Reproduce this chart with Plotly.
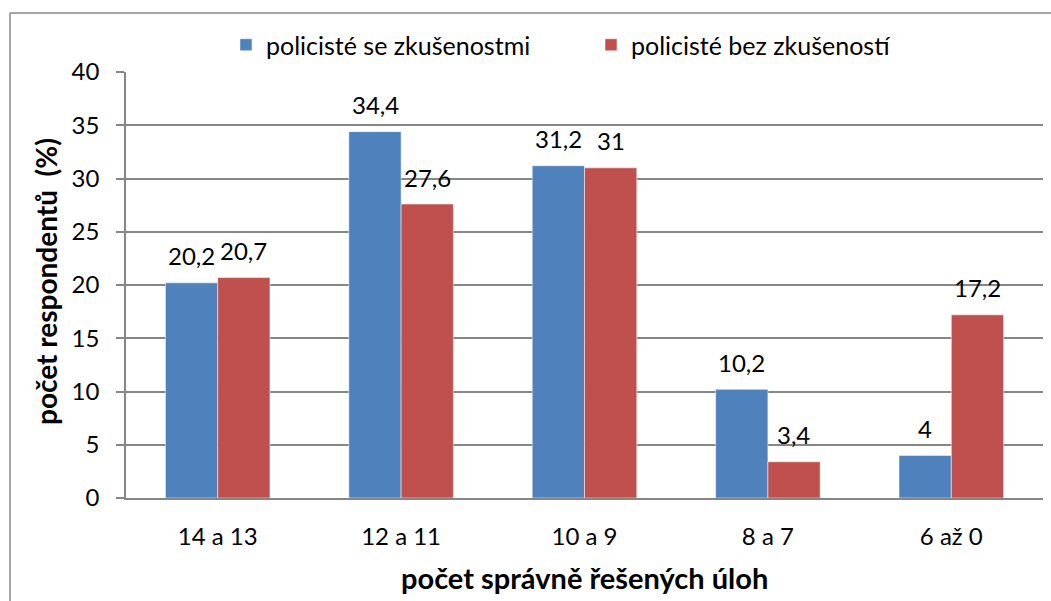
import plotly.graph_objects as go

categories = ["14 a 13", "12 a 11", "10 a 9", "8 a 7", "6 až 0"]
series_names = ["policisté se zkušenostmi", "policisté bez zkušeností"]
with_exp = [20.2, 34.4, 31.2, 10.2, 4]
without_exp = [20.7, 27.6, 31, 3.4, 17.2]
y_ticks = [0, 5, 10, 15, 20, 25, 30, 35, 40]

colors = ["#4F81BD", "#C0504D"]
FONT = "Lato"

def fmt(v):
    return f"{v:g}".replace(".", ",")

W, H = 1051, 601
L, R, T, B = 126, 8, 72, 103
pw, ph = W - L - R, H - T - B

def px(x):
    return (x - L) / pw

def py(y):
    return (H - B - y) / ph

fig = go.Figure()
for name, vals, col in zip(series_names, [with_exp, without_exp], colors):
    fig.add_trace(go.Bar(
        x=categories, y=vals, name=name,
        marker=dict(color=col, line=dict(color="rgba(255,255,255,0.5)", width=1)),
    ))

annotations = []
for vals, shift in [(with_exp, -26), (without_exp, 26)]:
    for c, v in zip(categories, vals):
        annotations.append(dict(
            x=c, y=v, xref="x", yref="y", text=fmt(v), showarrow=False,
            xshift=shift, yshift=27, yanchor="middle", xanchor="center",
            font=dict(family=FONT, size=24, color="#000000"),
        ))

annotations.append(dict(
    x=px(46), y=py(282), xref="paper", yref="paper",
    text="<b>počet respondentů\u00a0\u00a0(%)</b>",
    showarrow=False, textangle=-90, xanchor="center", yanchor="middle",
    font=dict(family=FONT, size=28, color="#000000"),
))
annotations.append(dict(
    x=px(584), y=py(577), xref="paper", yref="paper",
    text="<b>počet správně řešených úloh</b>",
    showarrow=False, xanchor="center", yanchor="middle",
    font=dict(family=FONT, size=29, color="#000000"),
))

fig.update_layout(
    width=W, height=H,
    margin=dict(l=L, r=R, t=T, b=B),
    paper_bgcolor="white", plot_bgcolor="white",
    barmode="group", bargap=0.43, bargroupgap=0,
    font=dict(family=FONT, color="#000000"),
    showlegend=True,
    legend=dict(
        orientation="h", x=px(226), y=py(45), xref="paper", yref="paper",
        xanchor="left", yanchor="middle",
        font=dict(family=FONT, size=25, color="#000000"),
        itemwidth=30, tracegroupgap=0, entrywidth=320,
    ),
    xaxis=dict(
        showgrid=False, showline=True, linecolor="#868686", linewidth=1.5,
        ticks="", tickfont=dict(family=FONT, size=24, color="#000000"),
        ticklabelstandoff=16,
    ),
    yaxis=dict(
        range=[0, 40], tickvals=y_ticks, showgrid=True, gridcolor="#868686", gridwidth=1.5,
        showline=True, linecolor="#868686", linewidth=1.5, zeroline=False,
        ticks="outside", ticklen=8, tickcolor="#868686", tickwidth=1.5,
        tickfont=dict(family=FONT, size=24, color="#000000"),
        ticklabelstandoff=12,
    ),
    annotations=annotations,
    shapes=[
        dict(type="line", xref="paper", yref="paper", x0=px(10), x1=px(W),
             y0=py(13), y1=py(13), line=dict(color="#888888", width=1.5)),
        dict(type="line", xref="paper", yref="paper", x0=px(10), x1=px(10),
             y0=py(13), y1=py(H), line=dict(color="#888888", width=1.5)),
    ],
)

fig.write_html(
    "out.html",
    config={"displayModeBar": False},
    post_script="document.body.style.margin='0';document.body.style.padding='0';",
)
